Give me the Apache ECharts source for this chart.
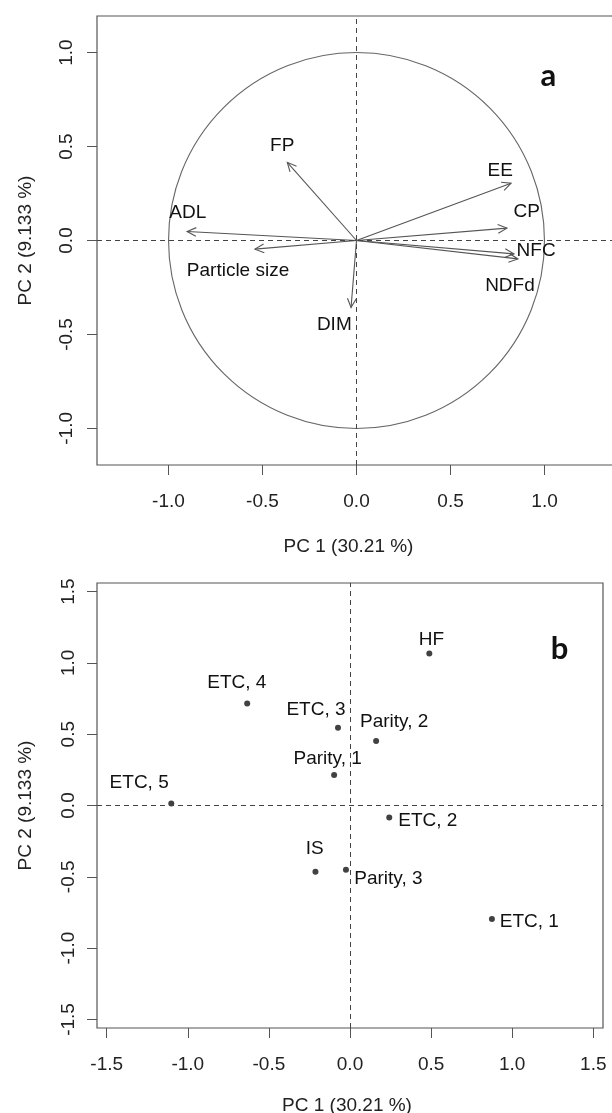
<!DOCTYPE html>
<html>
<head>
<meta charset="utf-8">
<script src="https://cdn.jsdelivr.net/npm/echarts@6/dist/echarts.min.js"></script>
<style>
  html, body { margin: 0; padding: 0; background: #fff; }
  #chart { width: 612px; height: 1113px; }
</style>
</head>
<body>
<div id="chart"></div>
<script>
// panel a: loadings (arrow tips) and where their labels sit
const varNames = ['FP', 'EE', 'CP', 'NFC', 'NDFd', 'ADL', 'Particle size', 'DIM']
const varPC1 = [-0.368, 0.822, 0.800, 0.837, 0.858, -0.901, -0.540, -0.029]
const varPC2 = [0.416, 0.305, 0.066, -0.071, -0.098, 0.048, -0.046, -0.357]
const varLabelX = [-0.395, 0.764, 0.905, 0.955, 0.816, -0.897, -0.630, -0.118]
const varLabelY = [0.506, 0.373, 0.155, -0.055, -0.242, 0.149, -0.162, -0.449]

// panel b: scores of the factor levels
const lvlNames = ['HF', 'ETC, 4', 'ETC, 3', 'Parity, 2', 'Parity, 1', 'ETC, 5', 'ETC, 2', 'IS', 'Parity, 3', 'ETC, 1']
const lvlPC1 = [0.489, -0.634, -0.074, 0.161, -0.098, -1.102, 0.242, -0.213, -0.025, 0.875]
const lvlPC2 = [1.065, 0.715, 0.545, 0.453, 0.213, 0.014, -0.085, -0.465, -0.450, -0.796]
const lvlLabelX = [0.502, -0.698, -0.210, 0.272, -0.138, -1.300, 0.480, -0.218, 0.237, 1.106]
const lvlLabelY = [1.163, 0.861, 0.671, 0.585, 0.328, 0.158, -0.106, -0.305, -0.515, -0.817]

const ticksA = [-1, -0.5, 0, 0.5, 1]
const ticksB = [-1.5, -1, -0.5, 0, 0.5, 1, 1.5]
const panelTags = [
  { text: 'a', x: 1.02, y: 0.876 },
  { text: 'b', x: 1.292, y: 1.098 }
]
const xTitle = 'PC 1 (30.21 %)'
const yTitle = 'PC 2 (9.133 %)'

const FONT = '"Liberation Sans", Arial, sans-serif'
const INK = '#222'
const LINE = '#555'

function makeX(gridIndex, min, max, ticks, gap, shift) {
  return {
    type: 'value', gridIndex, min, max,
    axisLine: { show: false, onZero: false },
    splitLine: { show: false },
    axisTick: { show: true, length: 10, customValues: ticks, lineStyle: { color: LINE, width: 1 } },
    axisLabel: {
      customValues: ticks, margin: 27, color: INK, fontSize: 19, fontFamily: FONT,
      formatter: v => v.toFixed(1)
    },
    name: xTitle, nameLocation: 'middle', nameGap: gap,
    nameTextStyle: { color: INK, fontSize: 19, fontFamily: FONT, padding: [0, shift, 0, 0] }
  }
}

function makeY(gridIndex, min, max, ticks, margin) {
  return {
    type: 'value', gridIndex, min, max,
    axisLine: { show: false, onZero: false },
    splitLine: { show: false },
    axisTick: { show: true, length: 10, customValues: ticks, lineStyle: { color: LINE, width: 1 } },
    axisLabel: {
      customValues: ticks, rotate: 90, margin, color: INK, fontSize: 19, fontFamily: FONT,
      formatter: v => v.toFixed(1)
    },
    name: yTitle, nameLocation: 'middle', nameRotate: 90, nameGap: 62,
    nameTextStyle: { color: INK, fontSize: 19, fontFamily: FONT }
  }
}

function zeroLines() {
  return {
    silent: true, symbol: 'none', label: { show: false },
    lineStyle: { color: '#444', type: [5, 4], width: 1 },
    data: [{ xAxis: 0 }, { yAxis: 0 }]
  }
}

function textSeries(idx, names, xs, ys, size, weight, family) {
  return {
    type: 'custom', xAxisIndex: idx, yAxisIndex: idx, silent: true,
    data: xs.map((x, i) => [x, ys[i], names[i]]),
    renderItem(params, api) {
      const p = api.coord([api.value(0), api.value(1)])
      return {
        type: 'text', x: p[0], y: p[1],
        style: {
          text: names[params.dataIndex], fill: '#111',
          font: weight + ' ' + size + 'px ' + family,
          align: 'center', verticalAlign: 'middle'
        }
      }
    }
  }
}

function renderArrow(params, api) {
  const o = api.coord([0, 0])
  const p = api.coord([api.value(0), api.value(1)])
  const ang = Math.atan2(p[1] - o[1], p[0] - o[0])
  const len = 10, spread = Math.PI / 7
  const h1 = [p[0] - len * Math.cos(ang - spread), p[1] - len * Math.sin(ang - spread)]
  const h2 = [p[0] - len * Math.cos(ang + spread), p[1] - len * Math.sin(ang + spread)]
  return {
    type: 'group',
    children: [
      { type: 'line', shape: { x1: o[0], y1: o[1], x2: p[0], y2: p[1] }, style: { stroke: LINE, lineWidth: 1.1 } },
      { type: 'polyline', shape: { points: [h1, p, h2] }, style: { stroke: LINE, fill: null, lineWidth: 1.1 } }
    ]
  }
}

const chart = echarts.init(document.getElementById('chart'))

chart.setOption({
  animation: false,
  backgroundColor: '#fff',
  grid: [
    { left: 97, top: 16, width: 519, height: 449, show: true, borderColor: LINE, borderWidth: 1.2, outerBoundsMode: 'none' },
    { left: 97, top: 583, width: 506, height: 445, show: true, borderColor: LINE, borderWidth: 1.2, outerBoundsMode: 'none' }
  ],
  xAxis: [
    makeX(0, -1.38, 1.38, ticksA, 72, 16),
    makeX(1, -1.56, 1.56, ticksB, 68, 6)
  ],
  yAxis: [
    makeY(0, -1.195, 1.195, ticksA, 21),
    makeY(1, -1.56, 1.56, ticksB, 19)
  ],
  series: [
    {
      // unit correlation circle
      type: 'custom', xAxisIndex: 0, yAxisIndex: 0, silent: true,
      data: [[0, 0]],
      renderItem(params, api) {
        const c = api.coord([0, 0])
        const rx = api.coord([1, 0])[0] - c[0]
        const ry = c[1] - api.coord([0, 1])[1]
        return {
          type: 'circle', shape: { cx: c[0], cy: c[1], r: (rx + ry) / 2 },
          style: { stroke: '#666', fill: null, lineWidth: 1.1 }
        }
      },
      markLine: zeroLines()
    },
    {
      type: 'custom', xAxisIndex: 0, yAxisIndex: 0, silent: true,
      data: varPC1.map((x, i) => [x, varPC2[i]]),
      renderItem: renderArrow
    },
    textSeries(0, varNames, varLabelX, varLabelY, 19, 'normal', FONT),
    textSeries(0, [panelTags[0].text], [panelTags[0].x], [panelTags[0].y], 31, 'bold', 'Lato, "Open Sans", sans-serif'),
    {
      type: 'scatter', xAxisIndex: 1, yAxisIndex: 1, silent: true,
      symbol: 'circle', symbolSize: 6,
      itemStyle: { color: '#111' },
      data: lvlPC1.map((x, i) => [x, lvlPC2[i]]),
      markLine: zeroLines()
    },
    textSeries(1, lvlNames, lvlLabelX, lvlLabelY, 19, 'normal', FONT),
    textSeries(1, [panelTags[1].text], [panelTags[1].x], [panelTags[1].y], 31, 'bold', 'Lato, "Open Sans", sans-serif')
  ]
})

window.addEventListener('resize', () => chart.resize())
</script>
</body>
</html>
